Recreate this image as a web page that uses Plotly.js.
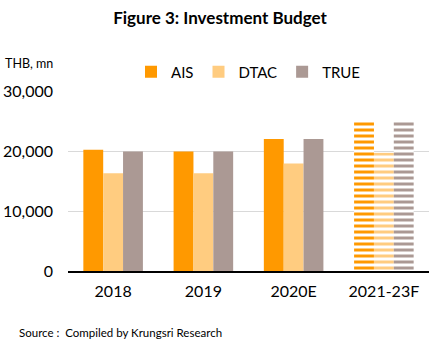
<!DOCTYPE html>
<html>
<head>
<meta charset="utf-8">
<script src="https://cdn.plot.ly/plotly-3.0.1.min.js"></script>
<style>html,body{margin:0;padding:0;background:#fff;}#chart{width:440px;height:349px;}</style>
</head>
<body>
<div id="chart"></div>
<script>
const categories = ["2018", "2019", "2020E", "2021-23F"];
const seriesNames = ["AIS", "DTAC", "TRUE"];
const aisValues = [20200, 19900, 22000, 24900];
const dtacValues = [16300, 16300, 17900, 19700];
const trueValues = [19900, 19900, 22000, 24900];
const tickValues = [0, 10000, 20000, 30000];
const tickLabels = ["0", "10,000", "20,000", "30,000"];
const colors = ["#FF9900", "#FFCC80", "#AB9994"];
const forecastFlags = [false, false, false, true];

const font = "Lato, Open Sans, sans-serif";
const seriesValues = [aisValues, dtacValues, trueValues];

const traces = seriesNames.map((name, i) => ({
  type: "bar",
  name: name,
  x: categories,
  y: seriesValues[i],
  marker: {
    color: colors[i],
    line: {width: 0},
    pattern: {
      shape: forecastFlags.map(f => f ? "-" : ""),
      fgcolor: categories.map(() => colors[i]),
      bgcolor: categories.map(() => "#ffffff"),
      size: 6,
      solidity: 0.5,
      fillmode: "replace"
    }
  },
  hoverinfo: "skip"
}));

const layout = {
  width: 440, height: 349,
  margin: {l: 68, r: 11, t: 91, b: 78},
  paper_bgcolor: "#fff", plot_bgcolor: "#fff",
  font: {family: font, color: "#000"},
  barmode: "group",
  bargap: 0.34,
  bargroupgap: 0,
  showlegend: true,
  title: {text: "<b>Figure 3: Investment Budget</b>", x: 0.5, xanchor: "center", y: 0.948, yanchor: "middle", font: {size: 17, family: font, color: "#000"}},
  legend: {orientation: "h", x: 0.5, xanchor: "center", y: 1.105, yanchor: "middle", font: {size: 15, color: "#000"}, itemwidth: 30, traceorder: "normal"},
  xaxis: {
    type: "category",
    showgrid: false,
    showline: true, linecolor: "#000", linewidth: 1.5,
    ticks: "", tickfont: {size: 16, color: "#000"},
    ticklabelstandoff: 5,
    fixedrange: true
  },
  yaxis: {
    range: [0, 30000],
    tickvals: tickValues, ticktext: tickLabels,
    showgrid: true, gridcolor: "#d9d9d9", gridwidth: 1,
    zeroline: false, showline: false,
    ticks: "", tickfont: {size: 16, color: "#000"},
    ticklabelstandoff: 14,
    fixedrange: true
  },
  annotations: [
    {text: "THB, mn", xref: "paper", yref: "paper", x: -0.18, xanchor: "left", y: 1.155, yanchor: "middle", showarrow: false, font: {size: 12.5, color: "#000"}},
    {text: "Source :  Compiled by Krungsri Research", xref: "paper", yref: "paper", x: -0.14, xanchor: "left", y: -0.34, yanchor: "middle", showarrow: false, font: {size: 11.5, color: "#000"}}
  ]
};

Plotly.newPlot("chart", traces, layout, {displayModeBar: false, staticPlot: true});
</script>
</body>
</html>
